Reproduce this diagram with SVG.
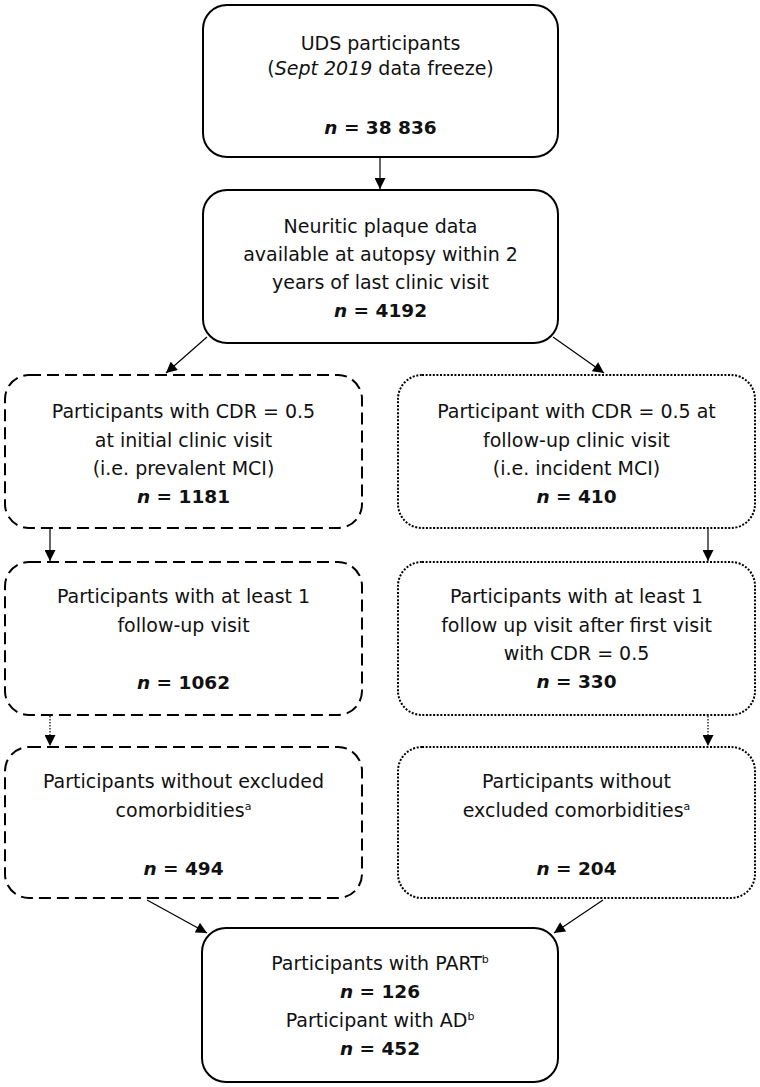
<svg xmlns="http://www.w3.org/2000/svg" width="760" height="1087" viewBox="0 0 760 1087">
<style>
  .box{fill:#fff;stroke:#000;stroke-width:2}
  .dash{stroke-dasharray:12 6}
  .dot{stroke-dasharray:2 1.6}
  text{font-family:"DejaVu Sans","Liberation Sans",sans-serif;font-size:19px;fill:#111;text-anchor:middle}
  .n{font-weight:bold;font-size:18.5px}
  .i{font-style:italic}
  .sup{font-size:11px}
  .con{stroke:#000;stroke-width:1.2;fill:none}
  .cdot{stroke-dasharray:1.5 1.5}
</style>
<defs>
  <marker id="ah" viewBox="0 0 10 10" refX="10" refY="5" markerWidth="12" markerHeight="11" markerUnits="userSpaceOnUse" orient="auto">
    <path d="M0,0 L10,5 L0,10 z" fill="#000"/>
  </marker>
</defs>
<rect width="760" height="1087" fill="#fff"/>

<g id="connectors">
  <line class="con" x1="380" y1="158" x2="380" y2="189" marker-end="url(#ah)"/>
  <line class="con" x1="207" y1="337" x2="166" y2="373" marker-end="url(#ah)"/>
  <line class="con" x1="553" y1="337" x2="604" y2="373" marker-end="url(#ah)"/>
  <line class="con" x1="50" y1="529" x2="50" y2="561" marker-end="url(#ah)"/>
  <line class="con" x1="708" y1="529" x2="708" y2="561" marker-end="url(#ah)"/>
  <line class="con cdot" x1="50" y1="716" x2="50" y2="746" marker-end="url(#ah)"/>
  <line class="con cdot" x1="708" y1="716" x2="708" y2="746" marker-end="url(#ah)"/>
  <line class="con" x1="147" y1="900" x2="207" y2="933" marker-end="url(#ah)"/>
  <line class="con" x1="603" y1="900" x2="554" y2="933" marker-end="url(#ah)"/>
</g>

<g id="n1">
  <rect class="box" x="203" y="5" width="355" height="152" rx="24"/>
  <text x="380.5" y="50">UDS participants</text>
  <text x="380.5" y="75">(<tspan class="i">Sept 2019</tspan> data freeze)</text>
  <text x="380.5" y="134" class="n"><tspan class="i">n</tspan> = 38 836</text>
</g>

<g id="n2">
  <rect class="box" x="203" y="190" width="355" height="153" rx="24"/>
  <text x="380.5" y="233">Neuritic plaque data</text>
  <text x="380.5" y="261">available at autopsy within 2</text>
  <text x="380.5" y="289">years of last clinic visit</text>
  <text x="380.5" y="317" class="n"><tspan class="i">n</tspan> = 4192</text>
</g>

<g id="n3l">
  <rect class="box dash" x="5" y="375" width="357" height="153" rx="24"/>
  <text x="183.5" y="418">Participants with CDR = 0.5</text>
  <text x="183.5" y="447">at initial clinic visit</text>
  <text x="183.5" y="475">(i.e. prevalent MCI)</text>
  <text x="183.5" y="503" class="n"><tspan class="i">n</tspan> = 1181</text>
</g>

<g id="n3r">
  <rect class="box dot" x="398" y="375" width="357" height="153" rx="24"/>
  <text x="576.5" y="418">Participant with CDR = 0.5 at</text>
  <text x="576.5" y="447">follow-up clinic visit</text>
  <text x="576.5" y="475">(i.e. incident MCI)</text>
  <text x="576.5" y="503" class="n"><tspan class="i">n</tspan> = 410</text>
</g>

<g id="n4l">
  <rect class="box dash" x="5" y="562" width="357" height="153" rx="24"/>
  <text x="183.5" y="603">Participants with at least 1</text>
  <text x="183.5" y="632">follow-up visit</text>
  <text x="183.5" y="689" class="n"><tspan class="i">n</tspan> = 1062</text>
</g>

<g id="n4r">
  <rect class="box dot" x="398" y="562" width="357" height="153" rx="24"/>
  <text x="576.5" y="603">Participants with at least 1</text>
  <text x="576.5" y="632">follow up visit after first visit</text>
  <text x="576.5" y="660">with CDR = 0.5</text>
  <text x="576.5" y="688" class="n"><tspan class="i">n</tspan> = 330</text>
</g>

<g id="n5l">
  <rect class="box dash" x="5" y="747" width="357" height="151" rx="24"/>
  <text x="183.5" y="788">Participants without excluded</text>
  <text x="183.5" y="817">comorbidities<tspan class="sup" dy="-7">a</tspan></text>
  <text x="183.5" y="875" class="n"><tspan class="i">n</tspan> = 494</text>
</g>

<g id="n5r">
  <rect class="box dot" x="398" y="747" width="357" height="151" rx="24"/>
  <text x="576.5" y="788">Participants without</text>
  <text x="576.5" y="817">excluded comorbidities<tspan class="sup" dy="-7">a</tspan></text>
  <text x="576.5" y="875" class="n"><tspan class="i">n</tspan> = 204</text>
</g>

<g id="n6">
  <rect class="box" x="202" y="928" width="356" height="154" rx="24"/>
  <text x="380" y="970">Participants with PART<tspan class="sup" dy="-7">b</tspan></text>
  <text x="380" y="998" class="n"><tspan class="i">n</tspan> = 126</text>
  <text x="380" y="1027">Participant with AD<tspan class="sup" dy="-7">b</tspan></text>
  <text x="380" y="1055" class="n"><tspan class="i">n</tspan> = 452</text>
</g>
</svg>
